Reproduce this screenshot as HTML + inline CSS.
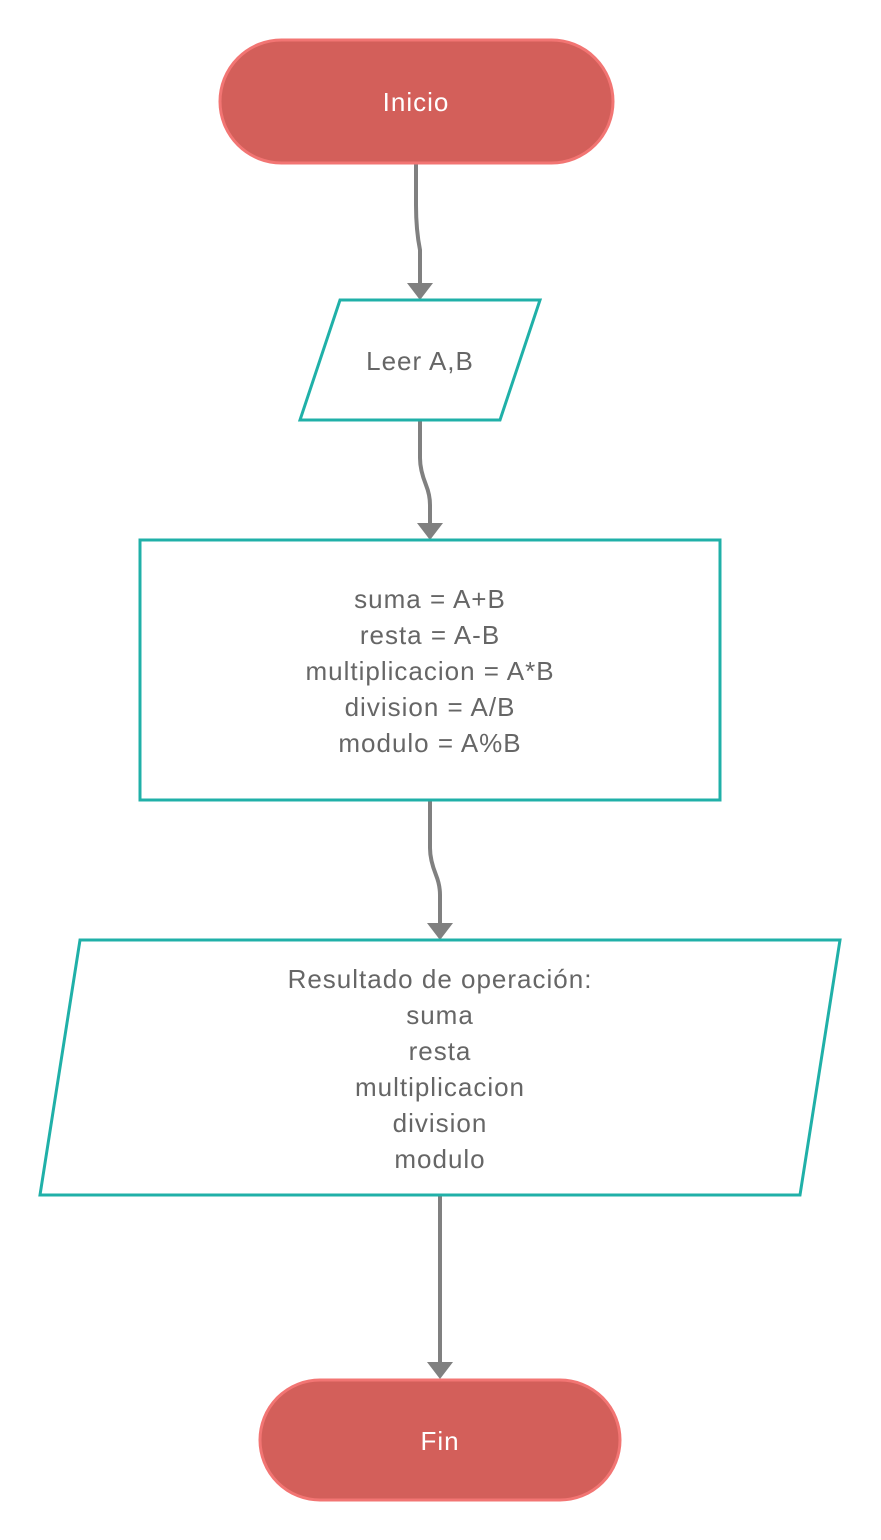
<!DOCTYPE html>
<html><head><meta charset="utf-8"><style>
html,body{margin:0;padding:0;background:#fff;}
svg{display:block;}
text{font-family:"Liberation Sans",sans-serif;font-size:26px;letter-spacing:1px;text-anchor:middle;dominant-baseline:central;}
.t{fill:#666;}
.w{fill:#fff;}
</style></head><body>
<svg width="881" height="1540" viewBox="0 0 881 1540" xmlns="http://www.w3.org/2000/svg">
<g fill="none" stroke="#808080" stroke-width="4">
<path d="M416 163 L416 205 Q416 230 420 250 L420 285"/>
<path d="M420 420 L420 458 Q420 470 426 485 Q430 495 430 505 L430 525"/>
<path d="M430 800 L430 848 Q430 860 436 875 Q440 885 440 895 L440 925"/>
<path d="M440 1195 L440 1364"/>
</g>
<g fill="#808080">
<polygon points="407,283 433,283 420,300"/>
<polygon points="417,523 443,523 430,540"/>
<polygon points="427,923 453,923 440,940"/>
<polygon points="427,1362 453,1362 440,1379"/>
</g>
<rect x="220" y="40" width="393" height="123" rx="61.5" fill="#d35f5a" stroke="#f27573" stroke-width="3"/>
<text class="w" x="416" y="102">Inicio</text>
<polygon points="340,300 540,300 500,420 300,420" fill="#fff" stroke="#20b0a8" stroke-width="3"/>
<text class="t" x="420" y="361">Leer A,B</text>
<rect x="140" y="540" width="580" height="260" fill="#fff" stroke="#20b0a8" stroke-width="3"/>
<text class="t" x="430" y="599">suma = A+B</text>
<text class="t" x="430" y="635">resta = A-B</text>
<text class="t" x="430" y="671">multiplicacion = A*B</text>
<text class="t" x="430" y="707">division = A/B</text>
<text class="t" x="430" y="743">modulo = A%B</text>
<polygon points="80,940 840,940 800,1195 40,1195" fill="#fff" stroke="#20b0a8" stroke-width="3"/>
<text class="t" x="440" y="979">Resultado de operación:</text>
<text class="t" x="440" y="1015">suma</text>
<text class="t" x="440" y="1051">resta</text>
<text class="t" x="440" y="1087">multiplicacion</text>
<text class="t" x="440" y="1123">division</text>
<text class="t" x="440" y="1159">modulo</text>
<rect x="260" y="1380" width="360" height="120" rx="60" fill="#d35f5a" stroke="#f27573" stroke-width="3"/>
<text class="w" x="440" y="1441">Fin</text>
</svg>
</body></html>
